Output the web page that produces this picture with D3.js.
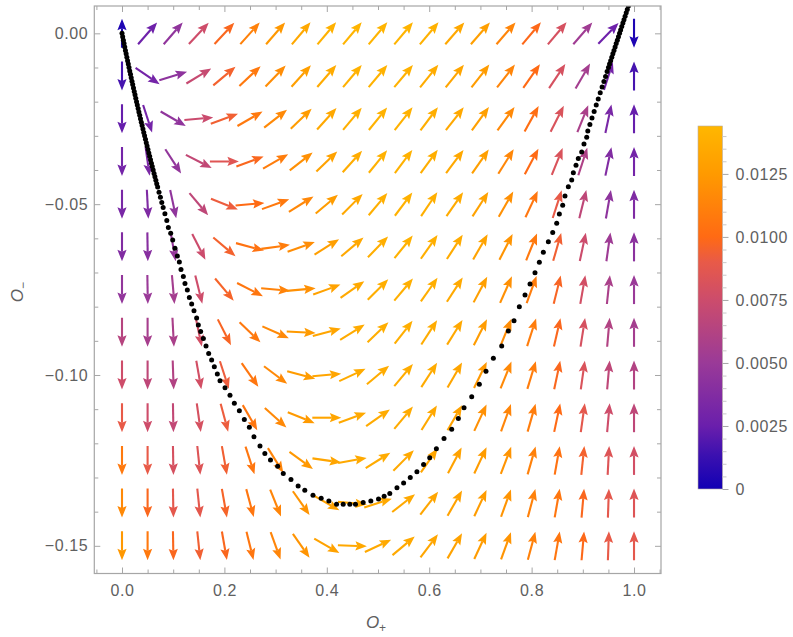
<!DOCTYPE html>
<html><head><meta charset="utf-8">
<script src="https://cdn.jsdelivr.net/npm/d3@7"></script>
<style>body{margin:0;background:#fff}svg{display:block}</style>
</head><body>
<svg id="chart" width="793" height="637"></svg>
<script>
// ---------- data ----------
const xGrid = [0,0.05,0.1,0.15,0.2,0.25,0.3,0.35,0.4,0.45,0.5,0.55,0.6,0.65,0.7,0.75,0.8,0.85,0.9,0.95,1.0];
const yGrid = [0,-0.0125,-0.025,-0.0375,-0.05,-0.0625,-0.075,-0.0875,-0.1,-0.1125,-0.125,-0.1375,-0.15];

// arrow direction (degrees, counter-clockwise from +O+) per row
const angleRows = [
  [90,49,49,47,47,48,49,50,50,50,50,50,50,49,49,49,50,50,49,46,-90],
  [-90,-34,17,31,40,43,46,48,49,50,50,50,51,51,52,52,55,56,60,72,90],
  [-90,-72,-30,5,20,30,38,44,48,50,51,52,53,52,54,54,61,63,68,78,90],
  [-90,-82,-57,-27,0,20,30,38,44,48,51,53,54,53,55,58,62,68,72,78,90],
  [-90,-87,-78,-50,-22,5,20,32,40,45,50,53,56,55,57,60,65,72,76,80,90],
  [-90,-89,-80,-63,-40,-15,8,20,32,40,46,51,55,57,60,63,68,74,78,82,90],
  [-90,-89,-85,-76,-50,-27,-5,5,20,35,45,50,55,57,62,66,70,76,80,84,90],
  [-90,-90,-87,-78,-63,-44,-24,-3,15,32,44,52,57,58,63,68,72,77,81,85,90],
  [-90,-90,-88,-80,-72,-55,-37,-15,5,25,40,50,57,60,64,68,73,78,82,85,90],
  [-90,-90,-89,-82,-75,-60,-42,-22,0,20,35,50,58,60,65,70,74,78,82,85,90],
  [-90,-90,-89,-84,-80,-72,-58,-36,-8,10,32,45,55,62,65,69,74,80,84,87,90],
  [-90,-90,-89,-84,-80,-75,-68,-55,-30,-5,18,38,52,60,65,70,75,80,85,88,90],
  [-90,-90,-89,-84,-80,-76,-70,-55,-30,-2,25,40,53,60,65,70,75,80,85,88,90]
];
// vector magnitude per row (colour value)
const magRows = [
  [0.0004,0.0027,0.0045,0.0076,0.0098,0.0112,0.0124,0.0134,0.0140,0.0142,0.0142,0.0142,0.0140,0.0134,0.0128,0.0114,0.0099,0.0080,0.0053,0.0027,0.0004],
  [0.0016,0.0030,0.0044,0.0072,0.0095,0.0108,0.0118,0.0128,0.0136,0.0140,0.0141,0.0140,0.0137,0.0132,0.0126,0.0114,0.0100,0.0080,0.0055,0.0030,0.0016],
  [0.0024,0.0030,0.0045,0.0074,0.0094,0.0108,0.0116,0.0126,0.0134,0.0139,0.0141,0.0140,0.0138,0.0134,0.0128,0.0116,0.0102,0.0082,0.0058,0.0033,0.0024],
  [0.0030,0.0034,0.0046,0.0070,0.0085,0.0098,0.0110,0.0120,0.0130,0.0137,0.0140,0.0140,0.0138,0.0134,0.0128,0.0115,0.0100,0.0082,0.0060,0.0037,0.0030],
  [0.0033,0.0036,0.0045,0.0068,0.0092,0.0100,0.0108,0.0115,0.0126,0.0134,0.0139,0.0140,0.0139,0.0136,0.0130,0.0120,0.0106,0.0090,0.0068,0.0044,0.0036],
  [0.0037,0.0040,0.0048,0.0075,0.0095,0.0104,0.0110,0.0118,0.0128,0.0134,0.0138,0.0140,0.0139,0.0136,0.0131,0.0122,0.0108,0.0094,0.0075,0.0052,0.0042],
  [0.0046,0.0050,0.0055,0.0076,0.0096,0.0106,0.0113,0.0120,0.0130,0.0135,0.0138,0.0139,0.0138,0.0135,0.0128,0.0120,0.0110,0.0097,0.0078,0.0058,0.0050],
  [0.0064,0.0056,0.0058,0.0078,0.0097,0.0108,0.0116,0.0125,0.0132,0.0136,0.0138,0.0138,0.0137,0.0134,0.0126,0.0118,0.0110,0.0098,0.0080,0.0062,0.0055],
  [0.0076,0.0068,0.0062,0.0078,0.0092,0.0106,0.0116,0.0126,0.0132,0.0136,0.0137,0.0137,0.0136,0.0132,0.0124,0.0116,0.0110,0.0098,0.0082,0.0068,0.0062],
  [0.0090,0.0076,0.0070,0.0080,0.0092,0.0106,0.0116,0.0125,0.0132,0.0135,0.0136,0.0136,0.0134,0.0130,0.0120,0.0114,0.0110,0.0100,0.0088,0.0076,0.0068],
  [0.0108,0.0090,0.0080,0.0084,0.0094,0.0106,0.0114,0.0124,0.0132,0.0135,0.0136,0.0135,0.0133,0.0130,0.0126,0.0122,0.0112,0.0104,0.0095,0.0084,0.0078],
  [0.0116,0.0098,0.0088,0.0088,0.0096,0.0106,0.0114,0.0122,0.0130,0.0134,0.0135,0.0135,0.0133,0.0130,0.0126,0.0122,0.0112,0.0106,0.0098,0.0088,0.0084],
  [0.0124,0.0108,0.0098,0.0094,0.0098,0.0106,0.0114,0.0122,0.0130,0.0134,0.0135,0.0135,0.0133,0.0130,0.0126,0.0122,0.0112,0.0106,0.0099,0.0090,0.0088]
];

// dotted trajectory
const curveX = [
  0.0000,0.0013,0.0027,0.0040,0.0054,0.0067,0.0081,0.0095,0.0109,0.0123,0.0137,0.0151,0.0166,0.0180,0.0195,0.0209,0.0224,0.0239,0.0254,0.0269,
  0.0284,0.0299,0.0315,0.0330,0.0346,0.0361,0.0377,0.0393,0.0409,0.0425,0.0441,0.0458,0.0474,0.0490,0.0507,0.0524,0.0540,0.0557,0.0574,0.0591,
  0.0609,0.0626,0.0643,0.0661,0.0678,0.0696,0.0723,0.0750,0.0777,0.0804,0.0838,0.0875,
  0.0905,0.0951,0.0990,0.1035,0.1081,0.1120,0.1152,0.1198,0.1230,0.1276,0.1315,0.1361,0.1406,0.1458,0.1491,0.1536,0.1589,0.1641,0.1693,0.1751,
  0.1803,0.1862,0.1914,0.2012,0.2109,0.2194,0.2292,0.2389,0.2487,0.2578,0.2695,
  0.279,0.290,0.304,0.315,0.330,0.344,0.357,0.373,0.389,0.404,0.419,0.432,0.445,0.456,0.471,0.486,0.501,0.512,0.523,0.537,
  0.550,0.563,0.576,0.589,0.601,0.614,
  0.6289,0.6439,0.6569,0.6680,0.6830,0.6979,0.7109,0.7253,0.7416,0.7546,0.7656,0.7760,0.7871,0.7969,0.8066,0.8151,0.8229,0.8327,0.8412,0.8490,
  0.8542,0.8607,0.8652,0.8717,0.8783,0.8815,0.8867,0.8912,0.8978,0.9023,0.9076,
  0.9097,0.9138,0.9179,0.9221,0.9262,0.9301,0.9340,0.9377,0.9412,0.9444,0.9474,
  0.9501,0.9522,0.9544,0.9566,0.9587,0.9609,0.9631,0.9652,0.9674,0.9696,0.9718,0.9739,0.9761,0.9783,0.9804,0.9826,0.9848,0.9869,0.9891
];
const curveY = [
  0.000,-0.001,-0.002,-0.003,-0.004,-0.005,-0.006,-0.007,-0.008,-0.009,-0.010,-0.011,-0.012,-0.013,-0.014,-0.015,-0.016,-0.017,-0.018,-0.019,
  -0.020,-0.021,-0.022,-0.023,-0.024,-0.025,-0.026,-0.027,-0.028,-0.029,-0.030,-0.031,-0.032,-0.033,-0.034,-0.035,-0.036,-0.037,-0.038,-0.039,
  -0.040,-0.041,-0.042,-0.043,-0.044,-0.045,-0.0465,-0.048,-0.0495,-0.051,-0.0528,-0.0548,
  -0.0568,-0.0585,-0.0605,-0.0629,-0.0652,-0.0669,-0.0691,-0.0712,-0.0732,-0.0751,-0.0773,-0.0792,-0.0812,-0.0833,-0.0854,-0.0873,-0.0893,-0.0915,-0.0937,-0.0956,
  -0.0976,-0.0997,-0.1017,-0.1037,-0.1059,-0.1083,-0.1105,-0.1130,-0.1153,-0.1181,-0.1208,
  -0.1230,-0.1249,-0.1267,-0.1288,-0.1306,-0.1325,-0.1337,-0.1352,-0.1361,-0.1369,-0.1378,-0.1378,-0.1378,-0.1378,-0.1373,-0.1369,-0.1363,-0.1355,-0.1347,-0.1330,
  -0.1316,-0.1300,-0.1283,-0.1262,-0.1242,-0.1216,
  -0.1186,-0.1159,-0.1127,-0.1096,-0.1064,-0.1027,-0.0989,-0.0951,-0.0915,-0.0871,-0.0841,-0.0800,-0.0766,-0.0734,-0.0701,-0.0670,-0.0641,-0.0610,-0.0583,-0.0556,
  -0.0529,-0.0503,-0.0476,-0.0449,-0.0429,-0.0408,-0.0386,-0.0366,-0.0347,-0.0324,-0.0304,
  -0.0286,-0.0267,-0.0248,-0.0229,-0.0210,-0.0192,-0.0174,-0.0157,-0.0141,-0.0126,-0.0112,
  -0.010,-0.009,-0.008,-0.007,-0.006,-0.005,-0.004,-0.003,-0.002,-0.001,0.000,0.001,0.002,0.003,0.004,0.005,0.006,0.007,0.008
];

const xTicks = [0,0.2,0.4,0.6,0.8,1.0];
const xTickLabels = ["0.0","0.2","0.4","0.6","0.8","1.0"];
const xMinorTicks = [-0.05,0.05,0.1,0.15,0.25,0.3,0.35,0.45,0.5,0.55,0.65,0.7,0.75,0.85,0.9,0.95,1.05];
const yTicks = [0,-0.05,-0.10,-0.15];
const yTickLabels = ["0.00","\u22120.05","\u22120.10","\u22120.15"];
const yMinorTicks = [-0.01,-0.02,-0.03,-0.04,-0.06,-0.07,-0.08,-0.09,-0.11,-0.12,-0.13,-0.14];
const cbTicks = [0,0.0025,0.005,0.0075,0.01,0.0125];
const cbTickLabels = ["0","0.0025","0.0050","0.0075","0.0100","0.0125"];
const cbMinorTicks = [0.0005,0.001,0.0015,0.002,0.003,0.0035,0.004,0.0045,0.0055,0.006,0.0065,0.007,0.008,0.0085,0.009,0.0095,0.0105,0.011,0.0115,0.012,0.013,0.0135,0.014];
const colorStops = [0,0.0013,0.0025,0.005,0.0075,0.009,0.01,0.0125,0.0144];
const colorValues = ["#1200b4","#3a10b0","#6a1fac","#9a3a98","#cc4c6c","#e85a48","#ff6a14","#ff9a00","#ffb700"];
const xTitle = "O", xSub = "+", yTitle = "O", ySub = "\u2212";

// ---------- drawing ----------
const svg = d3.select("#chart");
svg.append("rect").attr("width",793).attr("height",637).attr("fill","#fff");
const FONT = "'Liberation Sans', Arial, sans-serif";
const TXT = "#606060";

const frame = {l:94.3, r:661, t:6, b:573.5};
const x = d3.scaleLinear().domain([-0.0541,1.0527]).range([frame.l, frame.r]);
const y = d3.scaleLinear().domain([0.008,-0.1581]).range([frame.t, frame.b]);
const color = d3.scaleLinear().domain(colorStops).range(colorValues).interpolate(d3.interpolateRgb).clamp(true);

svg.append("defs").append("clipPath").attr("id","plotclip")
  .append("rect").attr("x",frame.l).attr("y",frame.t)
  .attr("width",frame.r-frame.l).attr("height",frame.b-frame.t);

// arrows
const L = 29, HL = 11.5, HW = 4.6;
const arrows = [];
yGrid.forEach((yv,r)=>xGrid.forEach((xv,c)=>arrows.push({x:xv,y:yv,a:angleRows[r][c],m:magRows[r][c]})));
const ag = svg.append("g").attr("clip-path","url(#plotclip)");
const arr = ag.selectAll("g.arrow").data(arrows).join("g")
  .attr("class","arrow")
  .attr("transform",d=>`translate(${x(d.x)},${y(d.y)}) rotate(${-d.a})`);
arr.append("line")
  .attr("x1",-L/2).attr("y1",0).attr("x2",L/2-HL+2).attr("y2",0)
  .attr("stroke",d=>color(d.m)).attr("stroke-width",2.1);
arr.append("path")
  .attr("d",`M${L/2},0L${L/2-HL},${-HW}L${L/2-HL+2},0L${L/2-HL},${HW}Z`)
  .attr("fill",d=>color(d.m));

// dots
const dots = curveX.map((v,i)=>({x:v,y:curveY[i]}));
ag.selectAll("circle.dot").data(dots).join("circle")
  .attr("class","dot").attr("cx",d=>x(d.x)).attr("cy",d=>y(d.y)).attr("r",2.5).attr("fill","#000");

// frame
svg.append("rect").attr("x",frame.l).attr("y",frame.t)
  .attr("width",frame.r-frame.l).attr("height",frame.b-frame.t)
  .attr("fill","none").attr("stroke","#a6a6a6").attr("stroke-width",1.2);

function styleAxis(g){
  g.select(".domain").remove();
  g.selectAll(".tick line").attr("stroke","#a6a6a6");
  g.selectAll(".tick text").attr("fill",TXT).attr("font-family",FONT).attr("font-size",16).attr("letter-spacing","0.6px");
}
// bottom
svg.append("g").attr("transform",`translate(0,${frame.b})`)
  .call(d3.axisBottom(x).tickValues(xTicks).tickFormat((d,i)=>xTickLabels[i]).tickSizeInner(-6).tickSizeOuter(0).tickPadding(11))
  .call(styleAxis);
svg.append("g").attr("transform",`translate(0,${frame.b})`)
  .call(d3.axisBottom(x).tickValues(xMinorTicks).tickFormat("").tickSizeInner(-4).tickSizeOuter(0))
  .call(styleAxis);
// top
svg.append("g").attr("transform",`translate(0,${frame.t})`)
  .call(d3.axisTop(x).tickValues(xTicks).tickFormat("").tickSizeInner(-6).tickSizeOuter(0)).call(styleAxis);
svg.append("g").attr("transform",`translate(0,${frame.t})`)
  .call(d3.axisTop(x).tickValues(xMinorTicks).tickFormat("").tickSizeInner(-4).tickSizeOuter(0)).call(styleAxis);
// left
svg.append("g").attr("transform",`translate(${frame.l},0)`)
  .call(d3.axisLeft(y).tickValues(yTicks).tickFormat((d,i)=>yTickLabels[i]).tickSizeInner(-6).tickSizeOuter(0).tickPadding(6))
  .call(styleAxis);
svg.append("g").attr("transform",`translate(${frame.l},0)`)
  .call(d3.axisLeft(y).tickValues(yMinorTicks).tickFormat("").tickSizeInner(-4).tickSizeOuter(0)).call(styleAxis);
// right
svg.append("g").attr("transform",`translate(${frame.r},0)`)
  .call(d3.axisRight(y).tickValues(yTicks).tickFormat("").tickSizeInner(-6).tickSizeOuter(0)).call(styleAxis);
svg.append("g").attr("transform",`translate(${frame.r},0)`)
  .call(d3.axisRight(y).tickValues(yMinorTicks).tickFormat("").tickSizeInner(-4).tickSizeOuter(0)).call(styleAxis);

// axis titles
const xt = svg.append("text").attr("x",376).attr("y",628).attr("text-anchor","middle")
  .attr("font-family",FONT).attr("fill",TXT);
xt.append("tspan").attr("font-size",17).attr("font-style","italic").text(xTitle);
xt.append("tspan").attr("font-size",12).attr("dy",4).text(xSub);
const yt = svg.append("text").attr("transform","translate(23,292) rotate(-90)").attr("text-anchor","middle")
  .attr("font-family",FONT).attr("fill",TXT);
yt.append("tspan").attr("font-size",17).attr("font-style","italic").text(yTitle);
yt.append("tspan").attr("font-size",12).attr("dy",4).text(ySub);

// colour bar
const cb = {x:698, w:24.5, t:126, b:489};
const cy = d3.scaleLinear().domain([0,0.0144]).range([cb.b, cb.t]);
const grad = svg.select("defs").append("linearGradient").attr("id","cbgrad")
  .attr("x1",0).attr("y1",1).attr("x2",0).attr("y2",0);
colorStops.forEach((s,i)=>grad.append("stop").attr("offset",s/0.0144).attr("stop-color",colorValues[i]));
svg.append("rect").attr("x",cb.x).attr("y",cb.t).attr("width",cb.w).attr("height",cb.b-cb.t)
  .attr("fill","url(#cbgrad)").attr("stroke","#b8b0a8").attr("stroke-width",0.6);
svg.append("g").attr("transform",`translate(${cb.x+cb.w},0)`)
  .call(d3.axisRight(cy).tickValues(cbTicks).tickFormat((d,i)=>cbTickLabels[i]).tickSizeInner(6).tickSizeOuter(0).tickPadding(7))
  .call(styleAxis);
svg.append("g").attr("transform",`translate(${cb.x+cb.w},0)`)
  .call(d3.axisRight(cy).tickValues(cbMinorTicks).tickFormat("").tickSizeInner(4).tickSizeOuter(0))
  .call(g=>{styleAxis(g); g.selectAll(".tick line").attr("stroke","#c8c8c8");});
</script>
</body></html>
